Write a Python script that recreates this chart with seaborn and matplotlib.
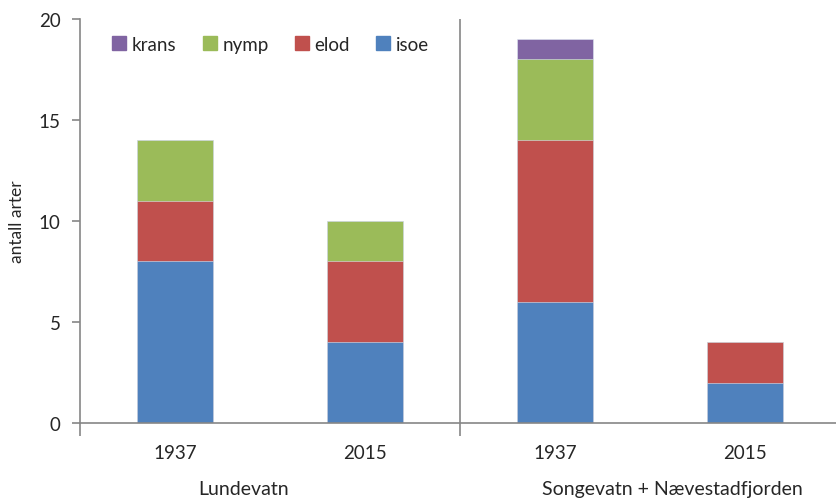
import numpy as np
import pandas as pd
import seaborn as sns
import matplotlib.pyplot as plt
from matplotlib.patches import Patch

sites = ['Lundevatn', 'Lundevatn', 'Songevatn + Nævestadfjorden', 'Songevatn + Nævestadfjorden']
years = ['1937', '2015', '1937', '2015']
isoe = [8, 4, 6, 2]
elod = [3, 4, 8, 2]
nymp = [3, 2, 4, 0]
krans = [0, 0, 1, 0]

colors = {'isoe': '#4F81BD', 'elod': '#C0504D', 'nymp': '#9BBB59', 'krans': '#8064A2'}

df = pd.DataFrame({'site': sites, 'year': years, 'isoe': isoe, 'elod': elod,
                   'nymp': nymp, 'krans': krans})
df['key'] = df['site'] + ' ' + df['year']
cum = df[['isoe', 'elod', 'nymp', 'krans']].cumsum(axis=1)

sns.set_style('white')
plt.rcParams['font.family'] = ['Lato', 'DejaVu Sans']
fs = 13.5

fig = plt.figure(figsize=(8.37, 5.02), dpi=100)
ax = fig.add_axes([80 / 837, 1 - 424 / 502, (840 - 80) / 837, (424 - 20) / 502])

# draw from the top layer down so each bar covers the one behind it
for name in ['krans', 'nymp', 'elod', 'isoe']:
    sns.barplot(x=df['key'], y=cum[name], color=colors[name], width=0.4,
                edgecolor='#dce6f2', linewidth=0.4, saturation=1, ax=ax)

ax.set_xlim(-0.5, 3.5)
ax.set_ylim(0, 20)
ax.set_yticks([0, 5, 10, 15, 20])
ax.set_xticks(range(4))
ax.set_xticklabels(years)
ax.set_xlabel('')
ax.set_ylabel('antall arter', fontsize=12.5, labelpad=10)

for s in ['top', 'right']:
    ax.spines[s].set_visible(False)
for s in ['left', 'bottom']:
    ax.spines[s].set_color('#868686')
    ax.spines[s].set_linewidth(1.2)

ax.tick_params(axis='y', direction='out', length=6, width=1.2, color='#868686',
               labelsize=fs, pad=8, left=True)
ax.tick_params(axis='x', which='major', length=0, labelsize=fs, pad=15)
ax.set_xticks([-0.5, 1.5, 3.5], minor=True)
ax.tick_params(axis='x', which='minor', direction='out', length=9, width=1.2,
               color='#868686', bottom=True)

ax.axvline(1.5, color='#868686', lw=1.2)

# site names sit under the year pairs, slightly off-centre as in the original
for x, label in [(0.36, 'Lundevatn'), (2.62, 'Songevatn + Nævestadfjorden')]:
    ax.text(x, -0.163, label, transform=ax.get_xaxis_transform(), ha='center',
            va='center', fontsize=fs + 0.5)

handles = [Patch(color=colors[n], label=n) for n in ['krans', 'nymp', 'elod', 'isoe']]
ax.legend(handles=handles, ncol=4, frameon=False, loc='upper left',
          bbox_to_anchor=(0.02, 1.0), fontsize=fs, handlelength=0.75,
          handleheight=0.75, handletextpad=0.3, columnspacing=1.4)

fig.savefig('out.png', dpi=100)
